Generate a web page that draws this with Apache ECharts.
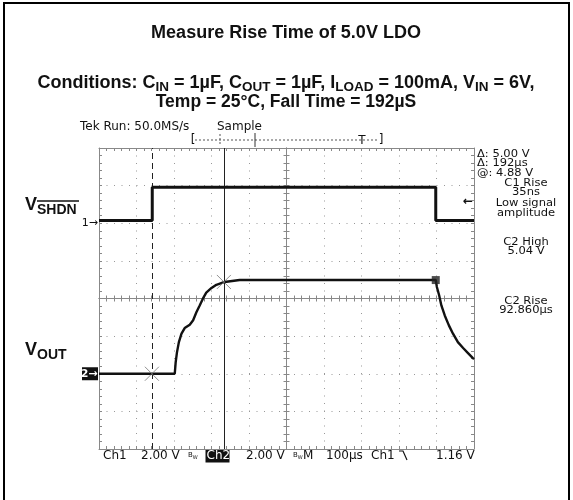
<!DOCTYPE html>
<html lang="en">
<head>
    <meta charset="UTF-8">
    <title>Measure Rise Time of 5.0V LDO</title>
    <script src="https://cdn.jsdelivr.net/npm/echarts@6/dist/echarts.min.js"></script>
    <style>
        html, body { margin: 0; padding: 0; background: #fff; }
        #chart { width: 573px; height: 500px; }
    </style>
</head>
<body>
    <div id="chart"></div>
    <script>
        // time in us from the left edge of the screen (100us/div)
        var ch1Time = [0, 142, 142, 898, 898, 1000];
        var ch1Volts = [0.14, 0.14, 1.92, 1.92, 0.14, 0.14];
        var ch2Time = [0, 202, 204.5, 208, 213, 220, 228.5, 242, 251, 260, 268.5, 277, 286, 300, 313, 335, 375, 898, 901, 907, 913, 922, 933, 944, 957, 971, 984, 997, 1000];
        var ch2Volts = [0, 0, 0.62, 1.15, 1.68, 2.13, 2.43, 2.61, 2.84, 3.28, 3.63, 3.99, 4.31, 4.56, 4.73, 4.88, 4.98, 4.98, 4.61, 4.17, 3.63, 3.10, 2.57, 2.13, 1.68, 1.37, 1.10, 0.83, 0.78];
        var cursorTimes = [141, 333];
        var cursorVolts = [0, 4.88];
        var endMarker = [898, 4.98];
        var trigLevel = 1.16;
        var readout = ['\u0394: 5.00 V', '\u0394: 192\u00b5s', '@: 4.88 V'];
        var notes = [['C1 Rise', 183], ['35ns', 192.5], ['Low signal', 203], ['amplitude', 213], ['C2 High', 242], ['5.04 V', 251.5], ['C2 Rise', 301], ['92.860\u00b5s', 310.5]];

        function zip(a, b) {
            return a.map(function (v, i) { return [v, b[i]]; });
        }

        var gray = '#888';
        var scopeFont = '12px "DejaVu Sans"';
        var smallFont = '10px "DejaVu Sans"';
        var boldFont = function (s) { return 'bold ' + s + 'px "Liberation Sans"'; };

        // frame / center axes of the graticule
        function xAx(pos, offset, inside, split) {
            return {
                type: 'value', min: 0, max: 1000, interval: 100, position: pos, offset: offset,
                axisLine: { show: true, onZero: false, lineStyle: { color: gray, width: 1 } },
                axisTick: { show: true, inside: inside, length: 3, lineStyle: { color: gray } },
                minorTick: { show: true, splitNumber: 5, length: 3, lineStyle: { color: gray } },
                axisLabel: { show: false },
                splitLine: { show: split, lineStyle: { color: '#999', type: [1, 6.5] } }
            };
        }
        function yAx(pos, offset, inside, split, min, max) {
            return {
                type: 'value', min: min, max: max, interval: 2, position: pos, offset: offset,
                axisLine: { show: true, onZero: false, lineStyle: { color: gray, width: 1 } },
                axisTick: { show: true, inside: inside, length: 3, lineStyle: { color: gray } },
                minorTick: { show: true, splitNumber: 5, length: 3, lineStyle: { color: gray } },
                axisLabel: { show: false },
                splitLine: { show: split, lineStyle: { color: '#999', type: [1, 6.5] } }
            };
        }

        var myChart = echarts.init(document.getElementById('chart'));
        var option = {
            animation: false,
            backgroundColor: '#fff',
            grid: { left: 99, top: 148, width: 375, height: 301 },
            xAxis: [
                xAx('bottom', 0, true, true),
                xAx('top', 0, true, false),
                xAx('bottom', -150.5, true, false),
                xAx('bottom', -150.5, false, false)
            ],
            yAxis: [
                yAx('left', 0, true, true, -4, 12),   // ch2 volts
                yAx('right', 0, true, false, -12, 4), // ch1 volts
                yAx('left', -187.5, true, false, -4, 12),
                yAx('left', -187.5, false, false, -4, 12)
            ],
            series: [
                {
                    name: 'Ch1', type: 'line', xAxisIndex: 0, yAxisIndex: 1,
                    data: zip(ch1Time, ch1Volts), symbol: 'none',
                    lineStyle: { color: '#111', width: 3 }, z: 5
                },
                {
                    name: 'Ch2', type: 'line', xAxisIndex: 0, yAxisIndex: 0,
                    data: zip(ch2Time, ch2Volts), symbol: 'none',
                    lineStyle: { color: '#111', width: 2.4 }, z: 5,
                    markLine: {
                        silent: true, symbol: ['none', 'none'], label: { show: false },
                        data: [
                            { xAxis: cursorTimes[0], lineStyle: { color: '#222', width: 1, type: [6, 4] } },
                            { xAxis: cursorTimes[1], lineStyle: { color: '#222', width: 1, type: 'solid' } }
                        ]
                    }
                },
                {
                    name: 'cursor', type: 'scatter', xAxisIndex: 0, yAxisIndex: 0,
                    data: zip(cursorTimes, cursorVolts),
                    symbol: 'path://M0,0L10,10M10,0L0,10', symbolSize: 14,
                    itemStyle: { color: 'none', borderColor: '#777', borderWidth: 1 }, z: 6
                },
                {
                    name: 'end', type: 'scatter', xAxisIndex: 0, yAxisIndex: 0,
                    data: [endMarker], symbol: 'rect', symbolSize: 8,
                    itemStyle: { color: '#222' }, z: 7
                }
            ]
        };
        myChart.setOption(option);

        var g1 = myChart.convertToPixel({ yAxisIndex: 1 }, 0);
        var g2 = myChart.convertToPixel({ yAxisIndex: 0 }, 0);
        var trigY = myChart.convertToPixel({ yAxisIndex: 1 }, trigLevel);

        var titleRich = {
            m: { font: boldFont(18), lineHeight: 22, fill: '#111' },
            s: { font: boldFont(13.5), lineHeight: 13, verticalAlign: 'bottom', fill: '#111' }
        };

        var graphic = [
            { type: 'rect', shape: { x: 4, y: 3, width: 565, height: 510 }, style: { fill: 'none', stroke: '#000', lineWidth: 2 } },
            { type: 'text', x: 286, y: 33, style: { text: 'Measure Rise Time of 5.0V LDO', font: boldFont(18), fill: '#111', align: 'center', verticalAlign: 'middle' } },
            { type: 'text', x: 286, y: 83, style: { text: '{m|Conditions: C}{s|IN}{m| = 1\u00b5F, C}{s|OUT}{m| = 1\u00b5F, I}{s|LOAD}{m| = 100mA, V}{s|IN}{m| = 6V,}', rich: titleRich, align: 'center', verticalAlign: 'middle' } },
            { type: 'text', x: 286, y: 102, style: { text: 'Temp = 25\u00b0C, Fall Time = 192\u00b5S', font: boldFont(17.5), fill: '#111', align: 'center', verticalAlign: 'middle' } },
            // channel labels
            { type: 'text', x: 25, y: 205, style: { text: 'V', font: boldFont(18), fill: '#111', verticalAlign: 'middle' } },
            { type: 'text', x: 37, y: 210, style: { text: 'SHDN', font: boldFont(14), fill: '#111', verticalAlign: 'middle' } },
            { type: 'line', shape: { x1: 37, y1: 201, x2: 79, y2: 201 }, style: { stroke: '#111', lineWidth: 1.5 } },
            { type: 'text', x: 25, y: 350, style: { text: 'V', font: boldFont(18), fill: '#111', verticalAlign: 'middle' } },
            { type: 'text', x: 37, y: 355, style: { text: 'OUT', font: boldFont(14), fill: '#111', verticalAlign: 'middle' } },
            // ground markers and trigger level
            { type: 'text', x: 98, y: g1, style: { text: '1\u2192', font: '11px "DejaVu Sans"', fill: '#111', align: 'right', verticalAlign: 'middle' } },
            { type: 'rect', shape: { x: 82, y: g2 - 6.5, width: 16, height: 13 }, style: { fill: '#111' } },
            { type: 'text', x: 97.5, y: g2, style: { text: '2\u2192', font: 'bold 11px "DejaVu Sans"', fill: '#fff', align: 'right', verticalAlign: 'middle' } },
            { type: 'text', x: 473, y: trigY, style: { text: '\u2190', font: 'bold 12px "DejaVu Sans"', fill: '#111', align: 'right', verticalAlign: 'middle' } },
            // top status line
            { type: 'text', x: 80, y: 127, style: { text: 'Tek Run: 50.0MS/s', font: scopeFont, fill: '#111', verticalAlign: 'middle' } },
            { type: 'text', x: 217, y: 127, style: { text: 'Sample', font: scopeFont, fill: '#111', verticalAlign: 'middle' } },
            { type: 'text', x: 193, y: 140, style: { text: '[', font: scopeFont, fill: '#111', align: 'center', verticalAlign: 'middle' } },
            { type: 'text', x: 381, y: 140, style: { text: ']', font: scopeFont, fill: '#111', align: 'center', verticalAlign: 'middle' } },
            { type: 'line', shape: { x1: 195, y1: 140, x2: 379, y2: 140 }, style: { stroke: '#555', lineWidth: 1, lineDash: [2, 2] } },
            { type: 'line', shape: { x1: 220, y1: 134, x2: 220, y2: 146 }, style: { stroke: '#555', lineWidth: 1, lineDash: [2, 2] } },
            { type: 'line', shape: { x1: 255, y1: 133, x2: 255, y2: 147 }, style: { stroke: '#333', lineWidth: 1 } },
            { type: 'text', x: 362, y: 141, style: { text: 'T', font: scopeFont, fill: '#111', align: 'center', verticalAlign: 'middle' } },
            // bottom status line
            { type: 'rect', shape: { x: 205.5, y: 449.5, width: 24, height: 13 }, style: { fill: '#111' } }
        ];

        readout.forEach(function (t, i) {
            graphic.push({ type: 'text', x: 477, y: 154 + i * 9.5, scaleX: 1.15, style: { text: t, font: smallFont, fill: '#111', verticalAlign: 'middle' } });
        });
        notes.forEach(function (n) {
            graphic.push({ type: 'text', x: 526, y: n[1], scaleX: 1.15, style: { text: n[0], font: smallFont, fill: '#111', align: 'center', verticalAlign: 'middle' } });
        });

        var bottomItems = [['Ch1', 103, '#111'], ['2.00 V', 141, '#111'], ['Ch2', 206.5, '#fff'], ['2.00 V', 246, '#111'], ['M', 303, '#111'], ['100\u00b5s', 326, '#111'], ['Ch1', 371, '#111'], ['1.16 V', 436, '#111']];
        bottomItems.forEach(function (b) {
            graphic.push({ type: 'text', x: b[1], y: 456, style: { text: b[0], font: scopeFont, fill: b[2], verticalAlign: 'middle' } });
        });
        [188, 293].forEach(function (x) {
            graphic.push({ type: 'text', x: x, y: 455, style: { text: '{b|B}{w|W}', rich: { b: { font: '7px "DejaVu Sans"', fill: '#111', lineHeight: 10 }, w: { font: '5px "DejaVu Sans"', fill: '#111', lineHeight: 5, verticalAlign: 'bottom' } }, verticalAlign: 'middle' } });
        });
        graphic.push({ type: 'polyline', shape: { points: [[399, 451], [403, 451], [407, 460]] }, style: { stroke: '#111', lineWidth: 1.2, fill: 'none' } });

        myChart.setOption({ graphic: graphic });
    </script>
</body>
</html>
